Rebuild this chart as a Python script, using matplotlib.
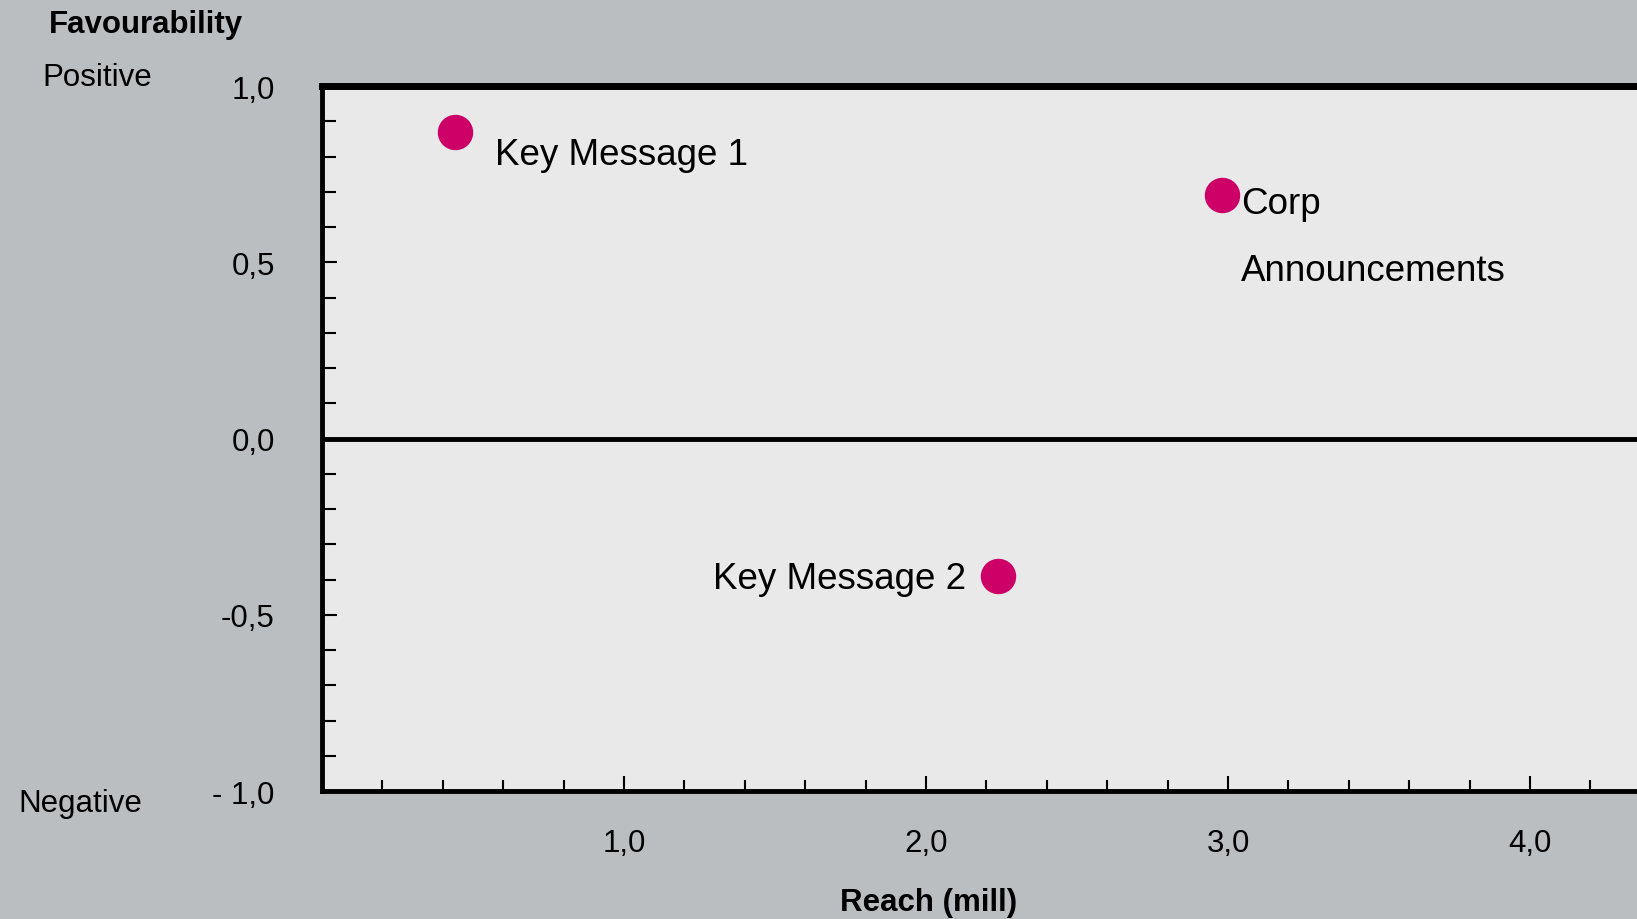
import matplotlib.pyplot as plt
from matplotlib.ticker import FixedLocator
import numpy as np

plt.rcParams['font.family'] = ['Liberation Sans', 'DejaVu Sans']

# data
labels = ["Key Message 1", "Corp\nAnnouncements", "Key Message 2"]
reach = [0.44, 2.98, 2.24]
favour = [0.87, 0.69, -0.39]

x_major = [1.0, 2.0, 3.0, 4.0]
x_major_labels = ["1,0", "2,0", "3,0", "4,0"]
y_major = [-1.0, -0.5, 0.0, 0.5, 1.0]
y_major_labels = ["- 1,0", "-0,5", "0,0", "0,5", "1,0"]

bg = '#bbbec1'
fig = plt.figure(figsize=(16.37, 9.2), dpi=100, facecolor=bg)
ax = fig.add_axes([322/1637, 1 - 792/920, 1 - 322/1637, (792 - 87)/920])
ax.set_facecolor('#e9e9e9')

ax.scatter(reach, favour, s=600, color='#cc0066', zorder=3, clip_on=False)

# labels next to the points
offsets = [(29, -16, 'left'), (14, -30, 'left'), (-23, -2, 'right')]
for xv, yv, lab, (dx, dy, ha) in zip(reach, favour, labels, offsets):
    ax.annotate(lab, (xv, yv), xytext=(dx, dy), textcoords='offset points',
                ha=ha, va='center', fontsize=26.5, linespacing=2.2)

ax.axhline(0, color='black', lw=3.5, zorder=2)

ax.set_xlim(0, (1637 - 322) / 302)
ax.set_ylim(-1.0, 1.0)

ax.xaxis.set_major_locator(FixedLocator(x_major))
ax.xaxis.set_minor_locator(FixedLocator(np.arange(0.2, 4.4, 0.2)))
ax.set_xticklabels(x_major_labels)
ax.yaxis.set_major_locator(FixedLocator(y_major))
ax.yaxis.set_minor_locator(FixedLocator(np.arange(-0.9, 1.0, 0.1)))
ax.set_yticklabels(y_major_labels)

ax.tick_params(axis='x', which='major', direction='in', length=11, width=1.5,
               pad=27, labelsize=22.5)
ax.tick_params(axis='x', which='minor', direction='in', length=8, width=1.5)
ax.tick_params(axis='y', which='major', direction='in', length=11, width=1.5,
               pad=34, labelsize=22.5)
ax.tick_params(axis='y', which='minor', direction='in', length=10, width=1.5)

ax.spines['right'].set_visible(False)
ax.spines['top'].set_linewidth(5)
ax.spines['left'].set_linewidth(3.5)
ax.spines['bottom'].set_linewidth(3.5)

# outer texts
fig.text(146/1637, 1 - 25/920, "Favourability", fontsize=22.5, fontweight='bold',
         ha='center', va='center')
fig.text(97/1637, 1 - 78/920, "Positive", fontsize=22.5, ha='center', va='center')
fig.text(80/1637, 1 - 804/920, "Negative", fontsize=22.5, ha='center', va='center')
fig.text(929/1637, 1 - 903/920, "Reach (mill)", fontsize=22.5, fontweight='bold',
         ha='center', va='center')

fig.savefig('out.png', dpi=100, facecolor=bg)
